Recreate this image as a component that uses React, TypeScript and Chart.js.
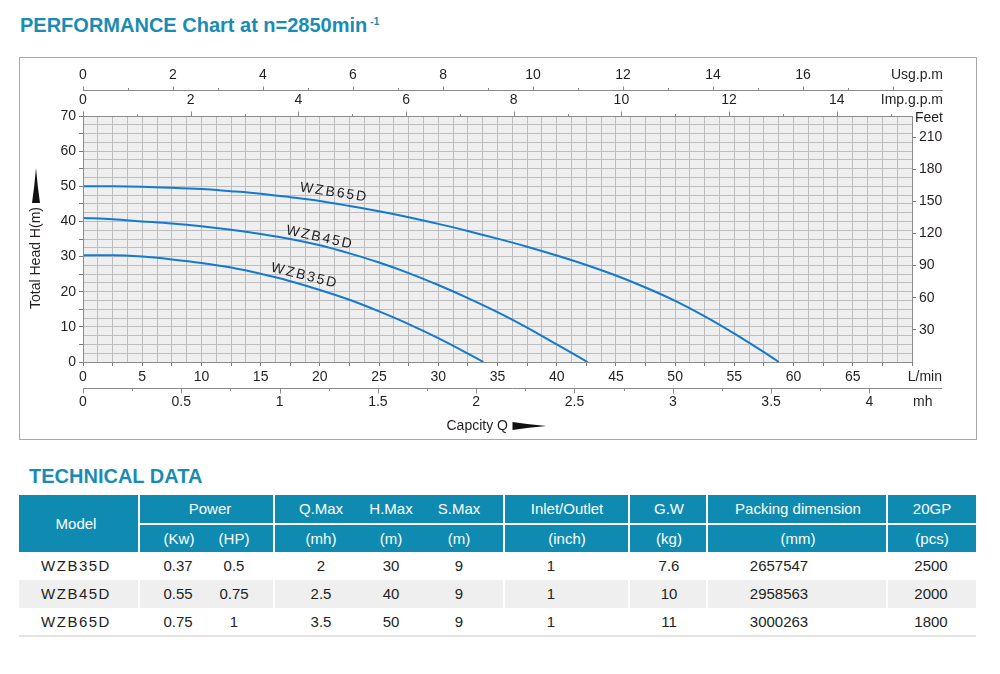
import React, { useEffect, useRef } from 'react';
import { Chart, registerables } from 'chart.js';

Chart.register(...registerables);

const FONT = "'Liberation Sans', Arial, Helvetica, sans-serif";
const TEAL_TITLE = '#1a8cb4';
const TEAL_HEAD = '#0f8bb2';
const TEXT = '#231f20';
const CURVE = '#1479cf';
const FRAME = '#8c8c8c';

// ---- Curve data (flow in L/min, head in m) ----
const wzb35Flow = [0, 2.5, 5, 7.5, 10, 12.5, 15, 17.5, 20, 22.5, 25, 27.5, 30, 32.5, 33.8];
const wzb35Head = [30.4, 30.4, 30.0, 29.2, 28.2, 26.9, 25.1, 23.0, 20.5, 17.7, 14.4, 10.8, 6.8, 2.4, 0];
const wzb45Flow = [0, 2.5, 5, 7.5, 10, 12.5, 15, 17.5, 20, 22.5, 25, 27.5, 30, 32.5, 35, 37.5, 40, 42.6];
const wzb45Head = [41.0, 40.6, 40.0, 39.4, 38.6, 37.6, 36.4, 35.0, 33.2, 30.9, 28.3, 25.3, 21.9, 18.2, 14.2, 9.8, 5.0, 0];
const wzb65Flow = [0, 2.5, 5, 7.5, 10, 12.5, 15, 17.5, 20, 22.5, 25, 27.5, 30, 32.5, 35, 37.5, 40, 42.5, 45, 47.5, 50, 52.5, 55, 57.5, 58.75];
const wzb65Head = [50.0, 50.0, 49.9, 49.6, 49.2, 48.6, 47.9, 46.9, 45.8, 44.4, 42.9, 41.2, 39.3, 37.3, 35.1, 32.8, 30.3, 27.6, 24.6, 21.2, 17.4, 13.0, 8.1, 2.8, 0];

const seriesNames = ['WZB35D', 'WZB45D', 'WZB65D'];
const seriesFlows = [wzb35Flow, wzb45Flow, wzb65Flow];
const seriesHeads = [wzb35Head, wzb45Head, wzb65Head];
// curve label anchors in data units (L/min, m) and text angle (deg)
const labelFlow = [18.7, 20.0, 21.2];
const labelHead = [24.5, 35.4, 48.2];
const labelAngle = [14, 12.5, 8.5];

// ---- Axes ----
const FLOW_MAX = 70; // L/min
const HEAD_MAX = 70; // m
const flowLabelStep = 5;
const headLabelStep = 10;
const LPM_PER_USG = 3.8;
const LPM_PER_IMP = 4.546;
const LPM_PER_M3H = 16.6;
const FEET_PER_M = 3.28084;
const usgTicks = [0, 1, 2, 3, 4, 5, 6, 7, 8, 9, 10, 11, 12, 13, 14, 15, 16, 17, 18];
const usgLabels = [0, 2, 4, 6, 8, 10, 12, 14, 16];
const impTicks = [0, 1, 2, 3, 4, 5, 6, 7, 8, 9, 10, 11, 12, 13, 14, 15];
const impLabels = [0, 2, 4, 6, 8, 10, 12, 14];
const mhTicks = [0, 0.25, 0.5, 0.75, 1, 1.25, 1.5, 1.75, 2, 2.25, 2.5, 2.75, 3, 3.25, 3.5, 3.75, 4];
const mhLabels = ['0', '0.5', '1', '1.5', '2', '2.5', '3', '3.5', '4'];

// ---- Table data ----
const models = ['WZB35D', 'WZB45D', 'WZB65D'];
const powerKw = ['0.37', '0.55', '0.75'];
const powerHp = ['0.5', '0.75', '1'];
const qMax = ['2', '2.5', '3.5'];
const hMax = ['30', '40', '50'];
const sMax = ['9', '9', '9'];
const inletOutlet = ['1', '1', '1'];
const grossWeight = ['7.6', '10', '11'];
const packingDim = ['2657547', '2958563', '3000263'];
const pcs20gp = ['2500', '2000', '1800'];

const isMult = (v: number, m: number) => Math.abs(v / m - Math.round(v / m)) < 1e-6;

const bgPlugin = {
  id: 'plotBg',
  beforeDraw(chart: any) {
    const { ctx, chartArea: a } = chart;
    ctx.save();
    ctx.fillStyle = '#efefef';
    ctx.fillRect(a.left, a.top, a.right - a.left, a.bottom - a.top);
    ctx.restore();
  },
};

const overlayPlugin = {
  id: 'overlay',
  afterDraw(chart: any) {
    const ctx: CanvasRenderingContext2D = chart.ctx;
    const a = chart.chartArea;
    const xs = chart.scales.x;
    const ys = chart.scales.y;
    const px = (l: number) => xs.getPixelForValue(l);
    ctx.save();
    // plot frame
    ctx.strokeStyle = FRAME;
    ctx.lineWidth = 1;
    ctx.strokeRect(Math.round(a.left) + 0.5, Math.round(a.top) + 0.5, Math.round(a.right - a.left), Math.round(a.bottom - a.top));

    ctx.font = `14px ${FONT}`;
    ctx.fillStyle = TEXT;
    ctx.textBaseline = 'middle';
    const axisEnd = a.right + 31;

    // US gpm axis (top)
    const usgY = Math.round(a.top - 26) + 0.5;
    ctx.strokeStyle = '#8a8a8a';
    ctx.beginPath();
    ctx.moveTo(px(0), usgY);
    ctx.lineTo(axisEnd, usgY);
    ctx.stroke();
    usgTicks.forEach((v) => {
      const x = Math.round(px(v * LPM_PER_USG)) + 0.5;
      const len = v % 2 === 0 ? 4 : 2.5;
      ctx.beginPath();
      ctx.moveTo(x, usgY);
      ctx.lineTo(x, usgY - len);
      ctx.stroke();
    });
    ctx.textAlign = 'center';
    usgLabels.forEach((v) => ctx.fillText(String(v), px(v * LPM_PER_USG), a.top - 40.5));
    ctx.textAlign = 'right';
    ctx.fillText('Usg.p.m', axisEnd, a.top - 40.5);

    // Imp gpm axis (top, on plot frame)
    const topY = Math.round(a.top) + 0.5;
    impTicks.forEach((v) => {
      const x = Math.round(px(v * LPM_PER_IMP)) + 0.5;
      const len = v % 2 === 0 ? 5 : 2.5;
      ctx.beginPath();
      ctx.moveTo(x, topY);
      ctx.lineTo(x, topY - len);
      ctx.stroke();
    });
    ctx.textAlign = 'center';
    impLabels.forEach((v) => ctx.fillText(String(v), px(v * LPM_PER_IMP), a.top - 15.5));
    ctx.textAlign = 'right';
    ctx.fillText('Imp.g.p.m', axisEnd, a.top - 15.5);

    // Feet caption
    ctx.fillText('Feet', axisEnd, a.top + 2);

    // L/min caption
    ctx.fillText('L/min', axisEnd - 1, a.bottom + 15.5);

    // m3/h axis (bottom)
    const mhY = Math.round(a.bottom + 26) + 0.5;
    ctx.beginPath();
    ctx.moveTo(px(0), mhY);
    ctx.lineTo(a.right + 30, mhY);
    ctx.stroke();
    mhTicks.forEach((v) => {
      const x = Math.round(px(v * LPM_PER_M3H)) + 0.5;
      const len = isMult(v, 0.5) ? 5 : 2.5;
      ctx.beginPath();
      ctx.moveTo(x, mhY);
      ctx.lineTo(x, mhY + len);
      ctx.stroke();
    });
    ctx.textAlign = 'center';
    mhLabels.forEach((s) => ctx.fillText(s, px(parseFloat(s) * LPM_PER_M3H), a.bottom + 40.5));
    ctx.textAlign = 'left';
    ctx.fillText('mh', a.right + 1, a.bottom + 40.5);

    // Capacity caption + arrow
    ctx.textAlign = 'left';
    const capX = (a.left + a.right) / 2 - 51;
    const capY = a.bottom + 64;
    ctx.fillText('Capcity Q', capX, capY);
    const arX = capX + 66;
    ctx.fillStyle = '#111';
    ctx.beginPath();
    ctx.moveTo(arX, capY - 4);
    ctx.quadraticCurveTo(arX + 16, capY - 1.5, arX + 34, capY);
    ctx.quadraticCurveTo(arX + 16, capY + 1.5, arX, capY + 4);
    ctx.closePath();
    ctx.fill();

    // Y title + arrow
    ctx.fillStyle = TEXT;
    const tx = a.left - 47;
    ctx.save();
    ctx.translate(tx, a.top + 142);
    ctx.rotate(-Math.PI / 2);
    ctx.textAlign = 'center';
    ctx.fillText('Total Head H(m)', 0, 0);
    ctx.restore();
    ctx.fillStyle = '#111';
    ctx.beginPath();
    ctx.moveTo(tx, a.top + 52);
    ctx.quadraticCurveTo(tx + 1.5, a.top + 70, tx + 4, a.top + 87);
    ctx.lineTo(tx - 4, a.top + 87);
    ctx.quadraticCurveTo(tx - 1.5, a.top + 70, tx, a.top + 52);
    ctx.closePath();
    ctx.fill();

    // curve labels
    ctx.fillStyle = TEXT;
    (ctx as any).letterSpacing = '2px';
    ctx.textAlign = 'center';
    seriesNames.forEach((name, i) => {
      ctx.save();
      ctx.translate(px(labelFlow[i]), ys.getPixelForValue(labelHead[i]));
      ctx.rotate((labelAngle[i] * Math.PI) / 180);
      ctx.fillText(name, 0, 0);
      ctx.restore();
    });
    (ctx as any).letterSpacing = '0px';
    ctx.restore();
  },
};

function Cell(props: { cx: number; top: number; h: number; text: string; color: string; spacing?: number }) {
  return (
    <div
      style={{
        position: 'absolute',
        left: props.cx - 100,
        width: 200,
        top: props.top,
        height: props.h,
        lineHeight: props.h + 'px',
        textAlign: 'center',
        color: props.color,
        fontSize: 15,
        letterSpacing: props.spacing ? props.spacing + 'px' : undefined,
        whiteSpace: 'nowrap',
      }}
    >
      {props.text}
    </div>
  );
}

const groups = [
  [19, 138],
  [140, 273],
  [275, 503],
  [505, 628],
  [630, 706],
  [708, 886],
  [888, 976],
];

export default function App() {
  const ref = useRef<HTMLCanvasElement>(null);

  useEffect(() => {
    if (!ref.current) return;
    const datasets = seriesNames.map((name, i) => ({
      label: name,
      data: seriesFlows[i].map((f, j) => ({ x: f, y: seriesHeads[i][j] })),
      borderColor: CURVE,
      backgroundColor: CURVE,
      borderWidth: 2,
      pointRadius: 0,
      fill: false,
      cubicInterpolationMode: 'monotone' as const,
      yAxisID: 'y',
    }));
    const tickFont = { family: FONT, size: 14 };
    const chart = new Chart(ref.current, {
      type: 'line',
      data: { datasets },
      options: {
        animation: false,
        responsive: false,
        maintainAspectRatio: false,
        layout: { padding: { top: 58, left: 0, right: 0, bottom: 0 } },
        plugins: { legend: { display: false }, tooltip: { enabled: false } },
        scales: {
          x: {
            type: 'linear',
            position: 'bottom',
            min: 0,
            max: FLOW_MAX,
            ticks: {
              stepSize: 1.25,
              autoSkip: false,
              maxRotation: 0,
              color: TEXT,
              font: tickFont,
              padding: 3,
              callback: (v: any) => (isMult(v, flowLabelStep) && v < FLOW_MAX ? String(v) : ''),
            },
            grid: {
              color: '#bdbdbd',
              tickLength: 4,
              tickColor: (c: any) => (c.tick && isMult(c.tick.value, 2.5) ? '#7a7a7a' : 'rgba(0,0,0,0)'),
            },
            border: { display: false },
            afterFit: (s: any) => {
              s.height = 77;
            },
          },
          y: {
            type: 'linear',
            position: 'left',
            min: 0,
            max: HEAD_MAX,
            ticks: {
              stepSize: 2.5,
              autoSkip: false,
              color: TEXT,
              font: tickFont,
              padding: 3,
              callback: (v: any) => (isMult(v, headLabelStep) ? String(v) : ''),
            },
            grid: {
              color: '#bdbdbd',
              tickLength: 4,
              tickColor: (c: any) => (c.tick && isMult(c.tick.value, 5) ? '#7a7a7a' : 'rgba(0,0,0,0)'),
            },
            border: { display: false },
            afterFit: (s: any) => {
              s.width = 63;
            },
          },
          y1: {
            type: 'linear',
            position: 'right',
            min: 0,
            max: HEAD_MAX * FEET_PER_M,
            ticks: {
              stepSize: 30,
              includeBounds: false,
              autoSkip: false,
              color: TEXT,
              font: tickFont,
              padding: 3,
              callback: (v: any) => (v === 0 ? '' : String(v)),
            },
            grid: {
              drawOnChartArea: false,
              tickLength: 4,
              tickColor: (c: any) => (c.tick && c.tick.value > 0 ? '#7a7a7a' : 'rgba(0,0,0,0)'),
            },
            border: { display: false },
            afterFit: (s: any) => {
              s.width = 64;
            },
          },
        },
      } as any,
      plugins: [bgPlugin, overlayPlugin],
    });
    return () => chart.destroy();
  }, []);

  const rowsTop = [552, 580, 608];
  const dataCols: { cx: number; vals: string[]; spacing?: number }[] = [
    { cx: 76, vals: models, spacing: 1.5 },
    { cx: 178, vals: powerKw },
    { cx: 234, vals: powerHp },
    { cx: 321, vals: qMax },
    { cx: 391, vals: hMax },
    { cx: 459, vals: sMax },
    { cx: 551, vals: inletOutlet },
    { cx: 669, vals: grossWeight },
    { cx: 779, vals: packingDim },
    { cx: 931, vals: pcs20gp },
  ];
  const head1 = [
    { cx: 210, t: 'Power' },
    { cx: 321, t: 'Q.Max' },
    { cx: 391, t: 'H.Max' },
    { cx: 459, t: 'S.Max' },
    { cx: 567, t: 'Inlet/Outlet' },
    { cx: 669, t: 'G.W' },
    { cx: 798, t: 'Packing dimension' },
    { cx: 932, t: '20GP' },
  ];
  const head2 = [
    { cx: 179, t: '(Kw)' },
    { cx: 234, t: '(HP)' },
    { cx: 321, t: '(mh)' },
    { cx: 391, t: '(m)' },
    { cx: 459, t: '(m)' },
    { cx: 567, t: '(inch)' },
    { cx: 669, t: '(kg)' },
    { cx: 798, t: '(mm)' },
    { cx: 932, t: '(pcs)' },
  ];

  return (
    <div
      style={{
        position: 'absolute',
        left: 0,
        top: 0,
        width: 1000,
        height: 674,
        background: '#fff',
        fontFamily: FONT,
        overflow: 'hidden',
      }}
    >
      <div
        style={{
          position: 'absolute',
          left: 20,
          top: 15,
          fontSize: 20,
          fontWeight: 'bold',
          color: TEAL_TITLE,
          lineHeight: '20px',
          whiteSpace: 'nowrap',
        }}
      >
        PERFORMANCE Chart at n=2850min
        <span style={{ fontSize: 10, position: 'relative', top: -7, marginLeft: 3 }}>-1</span>
      </div>

      <div
        style={{
          position: 'absolute',
          left: 19,
          top: 57,
          width: 956,
          height: 381,
          border: '1px solid #a8a8a8',
        }}
      >
        <canvas ref={ref} width={956} height={381} style={{ display: 'block', width: 956, height: 381 }} />
      </div>

      <div
        style={{
          position: 'absolute',
          left: 29,
          top: 466,
          fontSize: 20,
          fontWeight: 'bold',
          color: TEAL_TITLE,
          lineHeight: '20px',
          whiteSpace: 'nowrap',
        }}
      >
        TECHNICAL DATA
      </div>

      {/* header backgrounds */}
      <div style={{ position: 'absolute', left: 19, top: 495, width: 119, height: 57, background: TEAL_HEAD }} />
      {groups.slice(1).map((g, i) => (
        <React.Fragment key={'hb' + i}>
          <div style={{ position: 'absolute', left: g[0], top: 495, width: g[1] - g[0], height: 28, background: TEAL_HEAD }} />
          <div style={{ position: 'absolute', left: g[0], top: 525, width: g[1] - g[0], height: 27, background: TEAL_HEAD }} />
        </React.Fragment>
      ))}
      {/* gray data row */}
      {groups.map((g, i) => (
        <div key={'gr' + i} style={{ position: 'absolute', left: g[0], top: 580, width: g[1] - g[0], height: 28, background: '#efefef' }} />
      ))}
      <div style={{ position: 'absolute', left: 19, top: 635, width: 957, height: 2, background: '#e4e4e4' }} />

      <Cell cx={76} top={495} h={57} text="Model" color="#fff" />
      {head1.map((c, i) => (
        <Cell key={'h1' + i} cx={c.cx} top={495} h={28} text={c.t} color="#fff" />
      ))}
      {head2.map((c, i) => (
        <Cell key={'h2' + i} cx={c.cx} top={525} h={27} text={c.t} color="#fff" />
      ))}
      {dataCols.map((col, ci) =>
        col.vals.map((v, ri) => (
          <Cell key={'d' + ci + '_' + ri} cx={col.cx} top={rowsTop[ri]} h={28} text={v} color={TEXT} spacing={col.spacing} />
        ))
      )}
    </div>
  );
}
